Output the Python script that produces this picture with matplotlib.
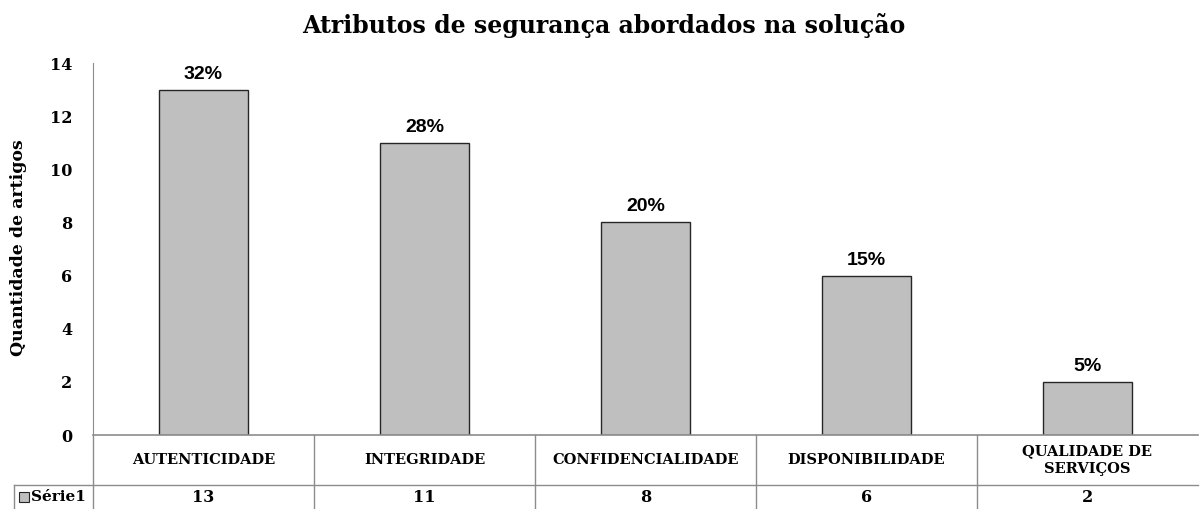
import matplotlib

matplotlib.use("Agg")
import matplotlib.pyplot as plt
from matplotlib.patches import Rectangle

categories = ["AUTENTICIDADE", "INTEGRIDADE", "CONFIDENCIALIDADE", "DISPONIBILIDADE", "QUALIDADE DE\nSERVIÇOS"]
values = [13, 11, 8, 6, 2]
percent_labels = ["32%", "28%", "20%", "15%", "5%"]
series_name = "Série1"
y_ticks = [0, 2, 4, 6, 8, 10, 12, 14]

SERIF = ["DejaVu Serif"]
SANS = ["Liberation Sans", "DejaVu Sans"]
GRID = "#8c8c8c"

fig = plt.figure(figsize=(12, 5.09), dpi=100)
ax = fig.add_axes([93 / 1200, 1 - 435 / 509, 1105 / 1200, 372 / 509])

x = list(range(len(categories)))
ax.bar(x, values, width=0.4, color="#bfbfbf", edgecolor="#262626", linewidth=1.0, zorder=2)
for xi, v, lab in zip(x, values, percent_labels):
    ax.annotate(lab, (xi, v), xytext=(0, 5), textcoords="offset points",
                ha="center", va="bottom", fontsize=14, fontweight="bold", family=SANS)

ax.set_xlim(-0.5, len(categories) - 0.5)
ax.set_ylim(0, 14)
ax.set_yticks(y_ticks)
ax.set_yticklabels([str(t) for t in y_ticks], fontsize=11.5, fontweight="bold", family=SERIF)
ax.tick_params(axis="y", length=0, pad=15)
ax.set_xticks([])
for side in ["top", "right", "bottom"]:
    ax.spines[side].set_visible(False)
ax.spines["left"].set_color(GRID)
ax.axhline(0, color=GRID, linewidth=1.2, zorder=3, clip_on=False)

fig.text(19 / 1200, 1 - 248 / 509, "Quantidade de artigos", rotation=90, ha="center", va="center",
         fontsize=12.5, fontweight="bold", family=SERIF)
fig.text(0.503, 1 - 25 / 509, "Atributos de segurança abordados na solução", ha="center", va="center",
         fontsize=17, fontweight="bold", family=SERIF)

# data table under the axis
tr = ax.get_xaxis_transform()
row1 = -50 / 372
row2 = -74 / 372
left_x = -0.5 - 79 / 221
line_kw = dict(color=GRID, linewidth=1.0, clip_on=False, transform=tr)
ax.plot([left_x, len(categories) - 0.5], [row1, row1], **line_kw)
for b in range(len(categories)):
    ax.plot([b - 0.5, b - 0.5], [0, row2], **line_kw)
ax.plot([left_x, left_x], [row1, row2], **line_kw)

for xi, cat, v in zip(x, categories, values):
    ax.text(xi, row1 / 2, cat, transform=tr, ha="center", va="center", fontsize=10.5,
            fontweight="bold", family=SERIF, linespacing=1.3)
    ax.text(xi, (row1 + row2) / 2, str(v), transform=tr, ha="center", va="center",
            fontsize=11.5, fontweight="bold", family=SERIF)

key_x = left_x + 5 / 221
ax.add_patch(Rectangle((key_x, (row1 + row2) / 2 - 5 / 372), 10 / 221, 10 / 372, transform=tr,
                       facecolor="#bfbfbf", edgecolor="#262626", linewidth=0.8, clip_on=False))
ax.text(key_x + 12 / 221, (row1 + row2) / 2, series_name, transform=tr, ha="left", va="center",
        fontsize=11, fontweight="bold", family=SERIF)

fig.savefig("out.png", dpi=100)
